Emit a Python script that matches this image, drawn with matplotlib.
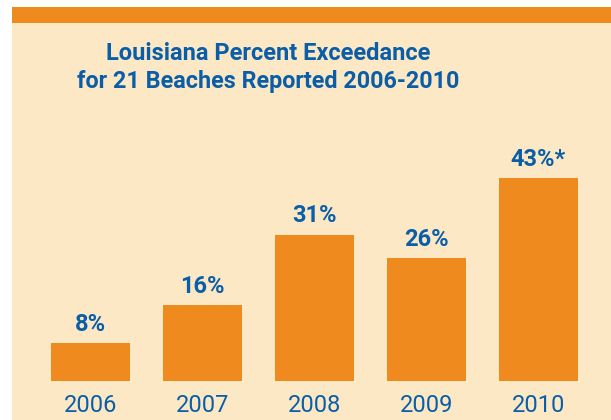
import matplotlib
matplotlib.use('Agg')
import matplotlib.pyplot as plt
from matplotlib.patches import Rectangle

years = ['2006', '2007', '2008', '2009', '2010']
pct = [8, 16, 31, 26, 43]
pct_labels = ['8%', '16%', '31%', '26%', '43%*']

orange = '#EF8B1E'
peach = '#FDE8C5'
blue = '#0A5EA8'
fonts = ['Roboto', 'DejaVu Sans']

W, H = 611, 420
fig = plt.figure(figsize=(W / 100, H / 100), dpi=100, facecolor='white')

# background panel + orange band on top
fig.patches.append(Rectangle((12 / W, 0), 1, (H - 23) / H, transform=fig.transFigure,
                             facecolor=peach, edgecolor='none', zorder=-5))
fig.patches.append(Rectangle((12 / W, (H - 23) / H), 1, 16 / H, transform=fig.transFigure,
                             facecolor=orange, edgecolor='none', zorder=-5))

fig.text(268 / W, (H - 60) / H, 'Louisiana Percent Exceedance', ha='center', va='baseline',
         fontsize=17, fontweight='bold', color=blue, family=fonts)
fig.text(268 / W, (H - 88) / H, 'for 21 Beaches Reported 2006-2010', ha='center', va='baseline',
         fontsize=16.8, fontweight='bold', color=blue, family=fonts)

# axes: baseline at y=381px, 4.72 px per percent
base = 381
ax = fig.add_axes([12 / W, (H - base) / H, (W - 12) / W, (base - 23) / H])
ax.set_zorder(1)
ax.set_facecolor('none')
ppu = 4.72
ax.set_ylim(0, (base - 23) / ppu)
ax.set_xlim(-(90.5 - 12) / 112, (W - 90.5) / 112)
xs = range(len(years))
ax.bar(xs, pct, width=79 / 112, color=orange)
for x, v, lab, yr in zip(xs, pct, pct_labels, years):
    ax.text(x, v + 19 / ppu, lab, ha='center', va='center', fontsize=17,
            fontweight='bold', color=blue, family=fonts)
    ax.text(x, -24 / ppu, yr, ha='center', va='center', fontsize=17,
            color=blue, family=fonts, clip_on=False)
ax.axis('off')

fig.savefig('out.png', dpi=100, facecolor='white')
